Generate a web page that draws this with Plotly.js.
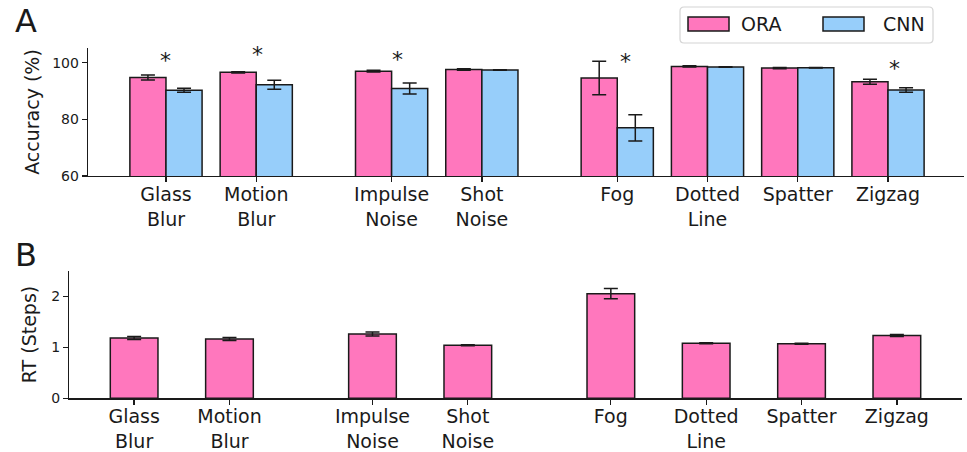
<!DOCTYPE html>
<html>
<head>
<meta charset="utf-8">
<script src="https://cdn.plot.ly/plotly-3.0.1.min.js"></script>
<style>
html,body{margin:0;padding:0;background:#fff;}
#chart{width:967px;height:452px;}
</style>
</head>
<body>
<div id="chart"></div>
<script>
// ---- data ----
const categories = ['Glass<br>Blur','Motion<br>Blur','Impulse<br>Noise','Shot<br>Noise','Fog','Dotted<br>Line','Spatter','Zigzag'];
const xPos = [0, 1, 2.5, 3.5, 5, 6, 7, 8];
const oraAcc = [94.8, 96.6, 97.0, 97.6, 94.6, 98.7, 98.1, 93.3];
const oraAccErr = [0.9, 0.2, 0.3, 0.3, 5.9, 0.2, 0.2, 0.9];
const cnnAcc = [90.3, 92.2, 90.9, 97.4, 77.0, 98.5, 98.2, 90.4];
const cnnAccErr = [0.7, 1.6, 1.9, 0.1, 4.6, 0.1, 0.1, 0.8];
const oraRT = [1.18, 1.16, 1.26, 1.04, 2.05, 1.08, 1.07, 1.23];
const oraRTErr = [0.03, 0.03, 0.04, 0.01, 0.10, 0.01, 0.01, 0.02];
const sigIdx = [0, 1, 2, 4, 7];
const starY = [102.1, 104.2, 102.7, 101.9, 99.2];
const starDx = [0, 0.01, 0.06, 0.09, 0.07];
const accTicks = [60, 80, 100];
const rtTicks = [0, 1, 2];
const seriesNames = ['ORA', 'CNN'];

// ---- styles ----
const PINK = '#FF77BD';
const BLUE = '#97CEFA';
const INK = '#1a1a1a';
const FONT = 'DejaVu Sans, sans-serif';
const W = 967, H = 452;
const px = v => v / W;
const py = v => 1 - v / H;

const errStyle = {type: 'data', visible: true, color: INK, thickness: 1.5, width: 7};

const traces = [
  {type: 'bar', name: seriesNames[0], x: xPos, y: oraAcc, offset: -0.4, width: 0.4,
   marker: {color: PINK, line: {color: INK, width: 1.5}},
   error_y: Object.assign({array: oraAccErr}, errStyle), xaxis: 'x', yaxis: 'y', showlegend: false},
  {type: 'bar', name: seriesNames[1], x: xPos, y: cnnAcc, offset: 0, width: 0.4,
   marker: {color: BLUE, line: {color: INK, width: 1.5}},
   error_y: Object.assign({array: cnnAccErr}, errStyle), xaxis: 'x', yaxis: 'y', showlegend: false},
  {type: 'bar', name: seriesNames[0], x: xPos, y: oraRT, width: 0.5,
   marker: {color: PINK, line: {color: INK, width: 1.5}},
   error_y: Object.assign({array: oraRTErr}, errStyle), xaxis: 'x2', yaxis: 'y2', showlegend: false}
];

const axisCommon = {
  showline: true, linecolor: INK, linewidth: 1.3, ticks: 'outside', ticklen: 5,
  tickwidth: 1.3, tickcolor: INK, showgrid: false, zeroline: false, fixedrange: true,
  color: INK
};

const annotations = [];
sigIdx.forEach((k, i) => {
  annotations.push({xref: 'x', yref: 'y', x: xPos[k] + starDx[i], y: starY[i], text: '*',
    showarrow: false, font: {family: FONT, size: 22, color: INK}, xanchor: 'center', yanchor: 'middle', yshift: -4});
});
annotations.push({xref: 'paper', yref: 'paper', x: px(13), y: py(21), text: 'A', showarrow: false,
  xanchor: 'left', yanchor: 'middle', font: {family: FONT, size: 32, color: INK}});
annotations.push({xref: 'paper', yref: 'paper', x: px(13), y: py(255), text: 'B', showarrow: false,
  xanchor: 'left', yanchor: 'middle', font: {family: FONT, size: 32, color: INK}});
annotations.push({xref: 'paper', yref: 'paper', x: px(739), y: py(24), text: seriesNames[0], showarrow: false,
  xanchor: 'left', yanchor: 'middle', font: {family: FONT, size: 19, color: INK}});
annotations.push({xref: 'paper', yref: 'paper', x: px(881), y: py(24), text: seriesNames[1], showarrow: false,
  xanchor: 'left', yanchor: 'middle', font: {family: FONT, size: 19, color: INK}});

// rounded legend frame
function roundRect(x0, y0, x1, y1, r) {
  const X = v => px(v), Y = v => py(v);
  return `M${X(x0 + r)},${Y(y0)} L${X(x1 - r)},${Y(y0)} Q${X(x1)},${Y(y0)} ${X(x1)},${Y(y0 + r)} ` +
         `L${X(x1)},${Y(y1 - r)} Q${X(x1)},${Y(y1)} ${X(x1 - r)},${Y(y1)} ` +
         `L${X(x0 + r)},${Y(y1)} Q${X(x0)},${Y(y1)} ${X(x0)},${Y(y1 - r)} ` +
         `L${X(x0)},${Y(y0 + r)} Q${X(x0)},${Y(y0)} ${X(x0 + r)},${Y(y0)} Z`;
}
const shapes = [
  {type: 'path', xref: 'paper', yref: 'paper', path: roundRect(680, 7, 933, 43, 4),
   line: {color: '#d4d4d4', width: 1.2}, fillcolor: 'rgba(255,255,255,0.8)'},
  {type: 'rect', xref: 'paper', yref: 'paper', x0: px(688), x1: px(729), y0: py(31), y1: py(17),
   line: {color: INK, width: 1.5}, fillcolor: PINK},
  {type: 'rect', xref: 'paper', yref: 'paper', x0: px(823), x1: px(864), y0: py(31), y1: py(17),
   line: {color: INK, width: 1.5}, fillcolor: BLUE}
];

const layout = {
  width: W, height: H,
  margin: {l: 0, r: 0, t: 0, b: 0},
  paper_bgcolor: '#fff', plot_bgcolor: '#fff',
  font: {family: FONT, color: INK, size: 14},
  showlegend: false,
  barmode: 'overlay',
  xaxis: Object.assign({}, axisCommon, {domain: [px(88), px(964)], range: [-0.864, 8.842],
    tickmode: 'array', tickvals: xPos, ticktext: categories, tickfont: {family: FONT, size: 19, color: INK},
    ticklabelstandoff: -4, anchor: 'y'}),
  yaxis: Object.assign({}, axisCommon, {domain: [py(176), py(48)], range: [60, 105.2],
    tickmode: 'array', tickvals: accTicks, tickfont: {family: FONT, size: 14, color: INK},
    title: {text: 'Accuracy (%)', font: {family: FONT, size: 19, color: INK}, standoff: 7},
    anchor: 'x'}),
  xaxis2: Object.assign({}, axisCommon, {domain: [px(69.3), px(961.7)], range: [-0.68, 8.68],
    tickmode: 'array', tickvals: xPos, ticktext: categories, tickfont: {family: FONT, size: 19, color: INK},
    ticklabelstandoff: -4, anchor: 'y2'}),
  yaxis2: Object.assign({}, axisCommon, {domain: [py(398.3), py(270.7)], range: [0, 2.5],
    tickmode: 'array', tickvals: rtTicks, tickfont: {family: FONT, size: 14, color: INK},
    title: {text: 'RT (Steps)', font: {family: FONT, size: 19, color: INK}, standoff: 9},
    anchor: 'x2'}),
  annotations: annotations,
  shapes: shapes
};

Plotly.newPlot('chart', traces, layout, {staticPlot: true, displayModeBar: false});
</script>
</body>
</html>
